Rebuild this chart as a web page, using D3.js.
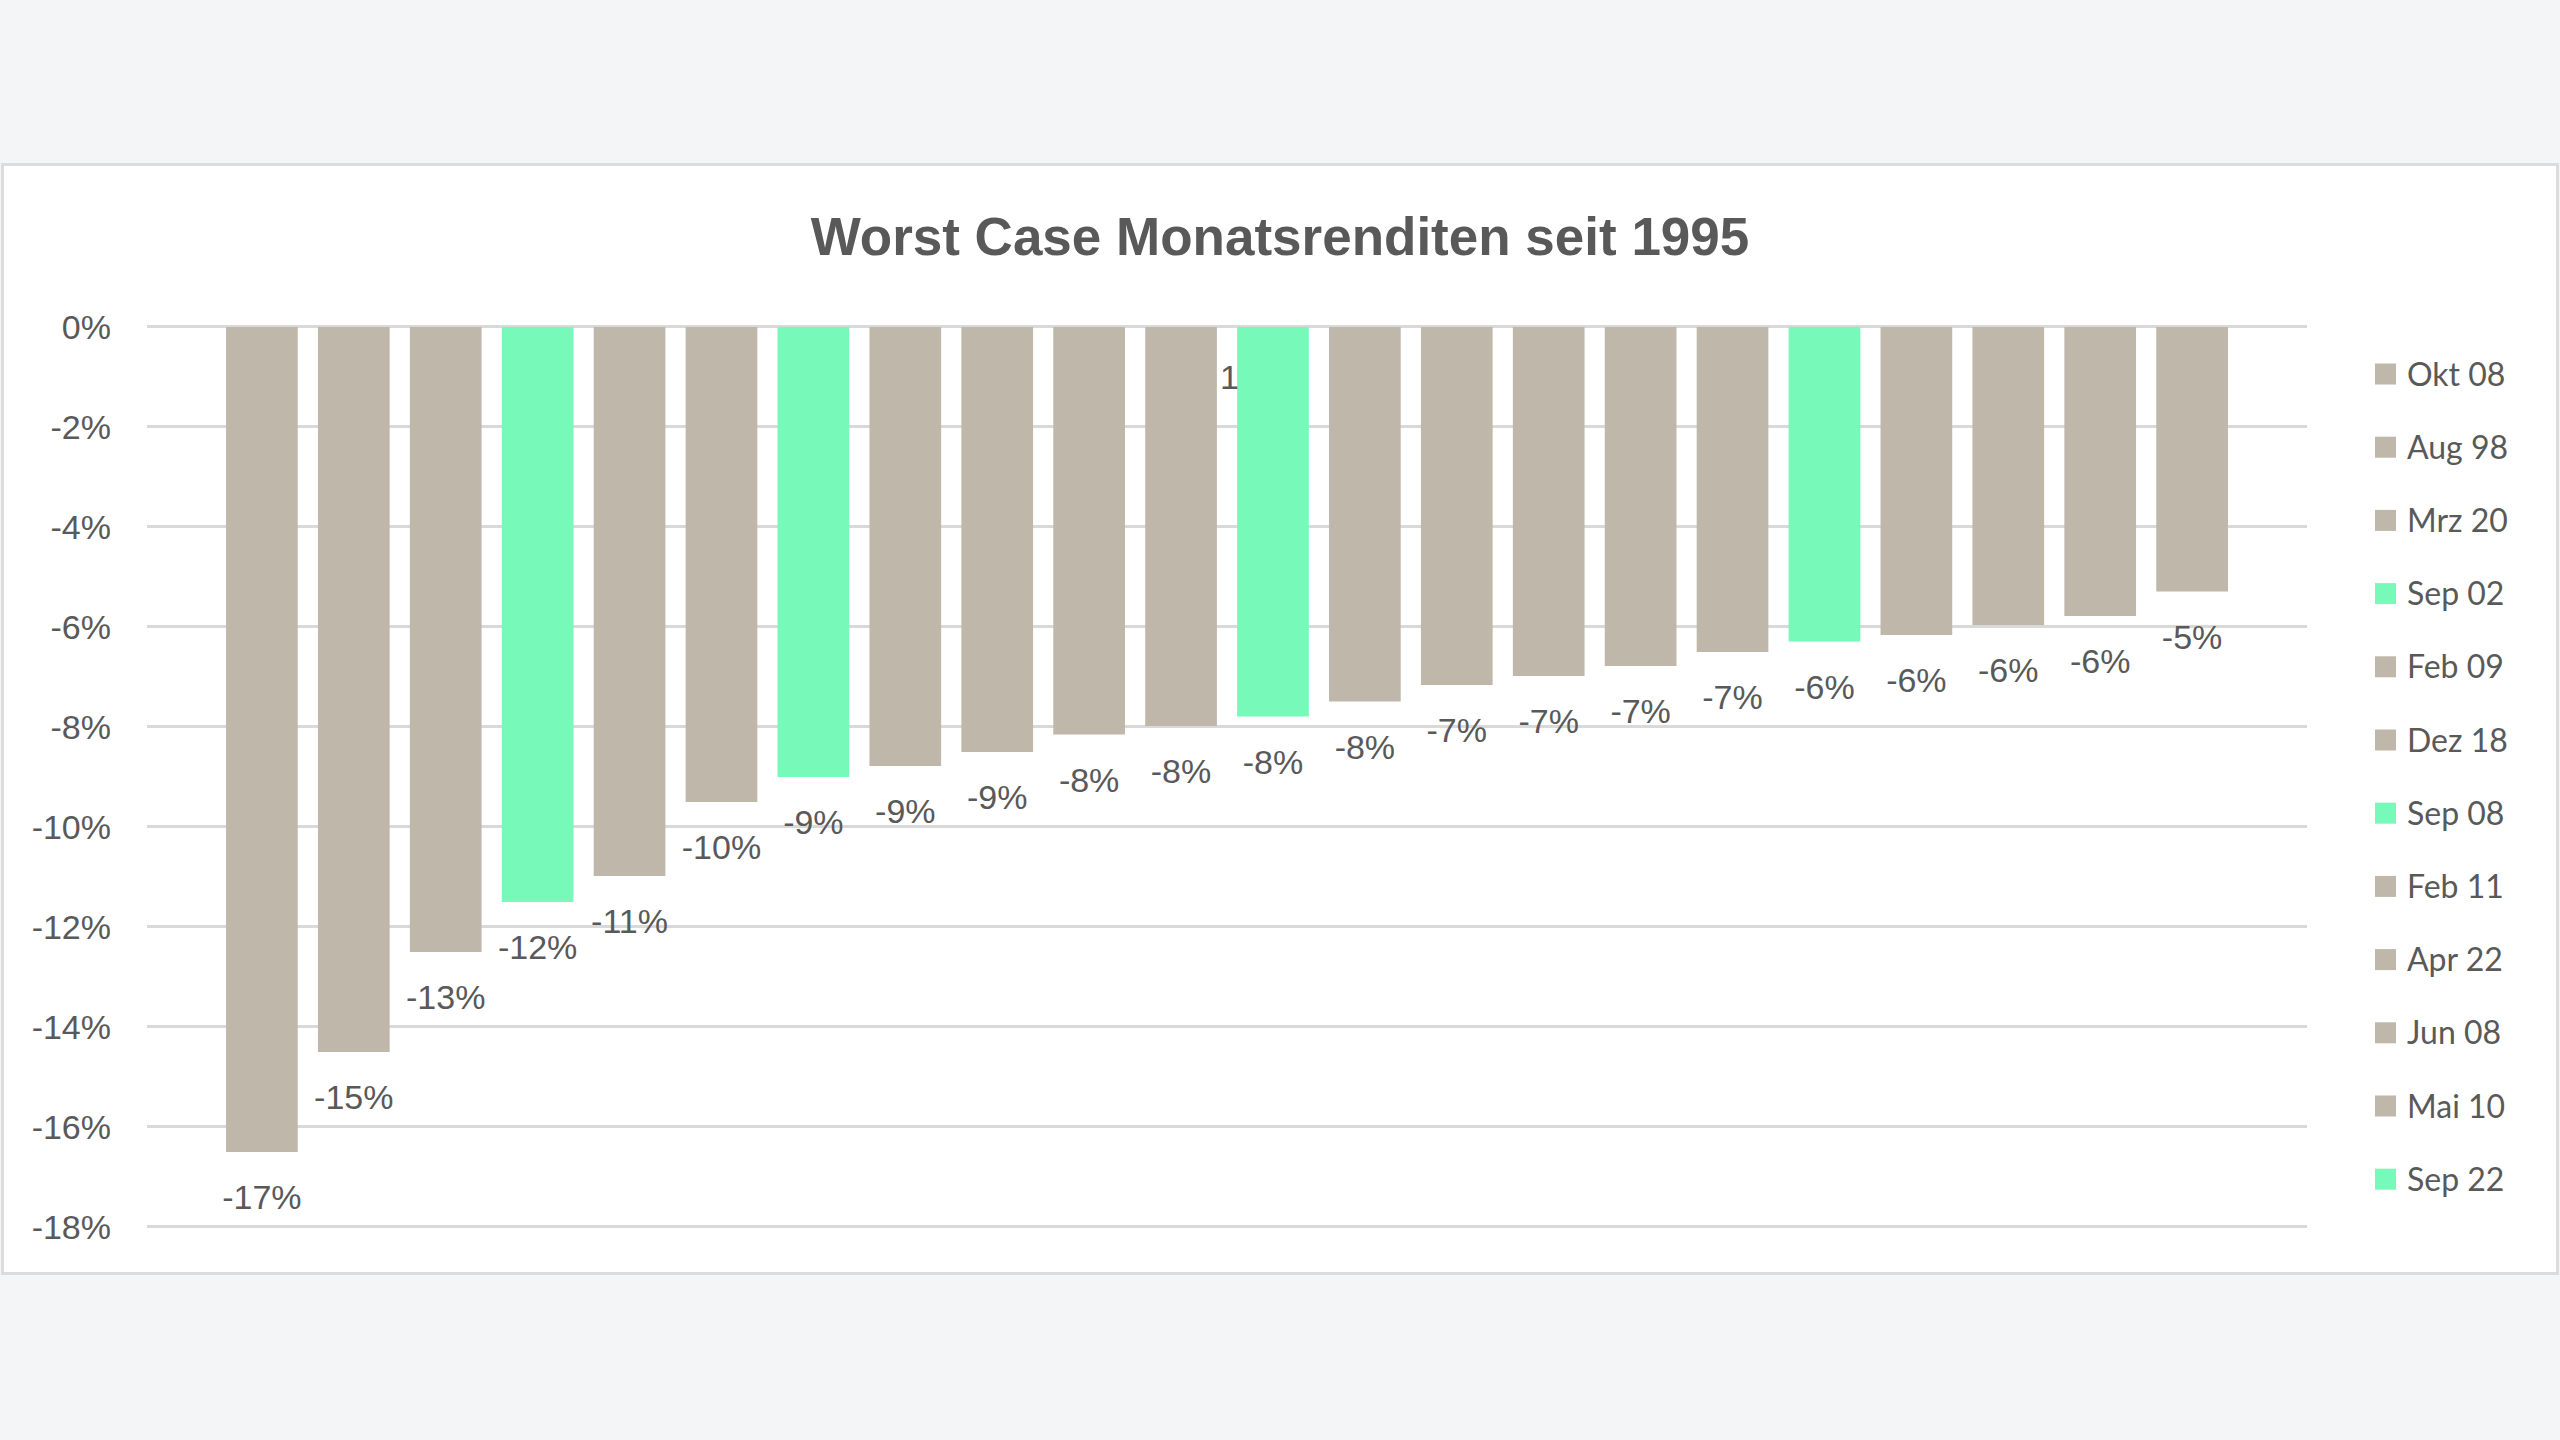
<!DOCTYPE html>
<html>
<head>
<meta charset="utf-8">
<script src="https://cdn.jsdelivr.net/npm/d3@7"></script>
<style>
  html, body { margin: 0; padding: 0; background: #f4f5f7; }
  svg { display: block; }
</style>
</head>
<body>
<svg id="chart" width="2560" height="1440"></svg>
<script>
// ---- data ----
const title = "Worst Case Monatsrenditen seit 1995";
const values = [-0.1652, -0.1452, -0.1252, -0.1152, -0.1100, -0.0952, -0.0902, -0.0880, -0.0852, -0.0817, -0.0800,
                -0.0781, -0.0751, -0.0718, -0.0700, -0.0680, -0.0652, -0.0631, -0.0618, -0.0598, -0.0580, -0.0531];
const highlighted = [3, 6, 11, 17];
const legendLabels = ["Okt 08", "Aug 98", "Mrz 20", "Sep 02", "Feb 09", "Dez 18", "Sep 08", "Feb 11", "Apr 22", "Jun 08", "Mai 10", "Sep 22"];
const yTicks = [0, -0.02, -0.04, -0.06, -0.08, -0.10, -0.12, -0.14, -0.16, -0.18];
const strayLabel = "1";

const colBase = "#bfb8aa";
const colHi = "#77f9ba";
const textCol = "#595959";

const svg = d3.select("#chart");

// panel
svg.append("rect").attr("x", 2.5).attr("y", 164.5).attr("width", 2555).attr("height", 1109)
  .attr("fill", "#ffffff").attr("stroke", "#dcdcdc").attr("stroke-width", 3);

// title
svg.append("text").attr("x", 1280).attr("y", 255).attr("text-anchor", "middle")
  .attr("font-family", "'Liberation Sans', Arial, sans-serif").attr("font-weight", "bold")
  .attr("font-size", 53).attr("fill", textCol).text(title);

const x = d3.scaleBand().domain(d3.range(values.length)).range([147, 2307])
  .paddingInner(0.22).paddingOuter(0.86);
const y = d3.scaleLinear().domain([-0.18, 0]).range([1226, 326]);

const fmt = v => d3.format(".0%")(v).replace("\u2212", "-");

// gridlines + y axis via d3.axisLeft
const yAxis = d3.axisLeft(y).tickValues(yTicks).tickFormat(fmt).tickSize(-(2307 - 147)).tickPadding(36);
const gAxis = svg.append("g").attr("transform", "translate(147,0)").call(yAxis);
gAxis.select(".domain").remove();
gAxis.selectAll(".tick line").attr("stroke", "#d9d9d9").attr("stroke-width", 3);
gAxis.selectAll(".tick text").attr("font-family", "'Liberation Sans', Arial, sans-serif")
  .attr("font-size", 34).attr("fill", textCol).attr("dy", "0.36em");

// bars
svg.append("g").selectAll("rect").data(values).join("rect")
  .attr("x", (d, i) => x(i)).attr("width", x.bandwidth())
  .attr("y", y(0) + 1).attr("height", d => y(d) - y(0) - 1)
  .attr("fill", (d, i) => highlighted.includes(i) ? colHi : colBase);

// data labels
svg.append("g").selectAll("text").data(values).join("text")
  .attr("x", (d, i) => x(i) + x.bandwidth() / 2)
  .attr("y", d => y(d) + 57)
  .attr("text-anchor", "middle")
  .attr("font-family", "'Liberation Sans', Arial, sans-serif").attr("font-size", 34)
  .attr("fill", textCol).text(d => fmt(d));

// stray label
svg.append("text").attr("x", x(11) - 17).attr("y", 389).attr("text-anchor", "start")
  .attr("font-family", "'Liberation Sans', Arial, sans-serif").attr("font-size", 34)
  .attr("fill", textCol).text(strayLabel);

// legend
const lg = svg.append("g").selectAll("g").data(legendLabels).join("g")
  .attr("transform", (d, i) => `translate(2375, ${374 + i * 73.2})`);
lg.append("rect").attr("x", 0).attr("y", -10.5).attr("width", 21).attr("height", 21)
  .attr("fill", (d, i) => highlighted.includes(i) ? colHi : colBase);
lg.append("text").attr("x", 32).attr("y", 11.5)
  .attr("font-family", "Lato, 'Open Sans', sans-serif").attr("font-size", 32)
  .attr("fill", textCol).text(d => d);
</script>
</body>
</html>
